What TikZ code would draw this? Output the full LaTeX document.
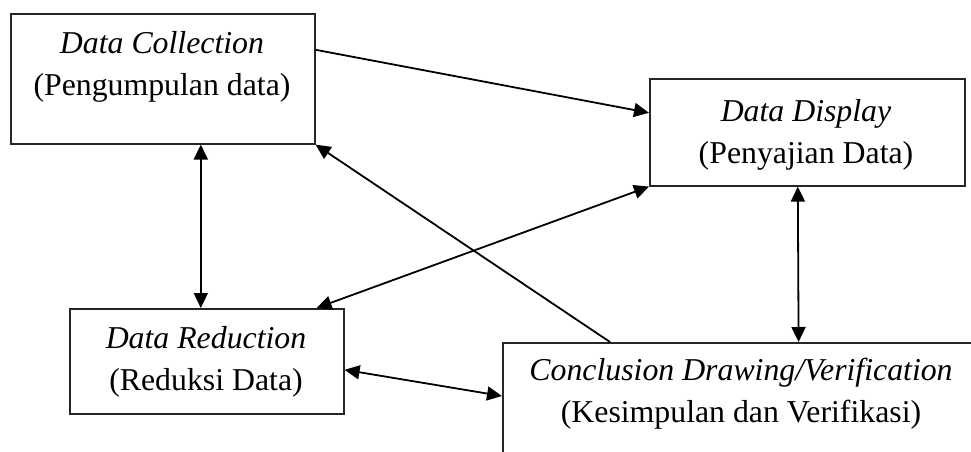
\documentclass[tikz,border=0pt]{standalone}
\usepackage{fontspec}
\setmainfont{Liberation Serif}
\usetikzlibrary{arrows.meta}
\begin{document}
\begin{tikzpicture}[x=1pt,y=-1pt,
  box/.style={draw=black!85, line width=1.6pt, rectangle, inner sep=0pt, anchor=north west},
  lbl/.style={align=center, inner sep=0pt, font=\fontsize{31.8}{42}\selectfont},
  conn/.style={line width=1.8pt, {Triangle[length=15pt,width=14pt]}-{Triangle[length=15pt,width=14pt]}},
  conn1/.style={line width=1.8pt, -{Triangle[length=15pt,width=14pt]}}]
\useasboundingbox (0,0) rectangle (971,452);
\clip (0,0) rectangle (971,452);
\fill[white] (0,0) rectangle (971,452);
% boxes
\node[box, minimum width=304pt, minimum height=130pt] (dc) at (10,13) {};
\node[box, minimum width=315pt, minimum height=107pt] (dd) at (649,78) {};
\node[box, minimum width=274pt, minimum height=105pt] (dr) at (69,308) {};
\node[box, minimum width=490pt, minimum height=130pt] (cd) at (502,342) {};
% labels
\node[lbl] (tdc) at (162,67) {\textit{Data Collection}\\(Pengumpulan data)};
\node[lbl] (tdd) at (806,135) {\textit{Data Display}\\(Penyajian Data)};
\node[lbl] (tdr) at (206,362) {\textit{Data Reduction}\\(Reduksi Data)};
\node[lbl] (tcd) at (741,394) {\textit{Conclusion Drawing/Verification}\\(Kesimpulan dan Verifikasi)};
% connectors
\draw[conn1] ([yshift=29pt]dc.east) -- ([yshift=19.5pt]dd.west);
\draw[conn1] ([xshift=108pt]cd.north west) -- (dc.south east);
\draw[conn] ([xshift=38pt]dc.south) -- ([xshift=-6pt]dr.north);
\draw[conn] ([xshift=-28pt]dr.north east) -- (dd.south west);
\draw[conn] ([yshift=-8.5pt]dr.east) -- ([yshift=-54pt]cd.north west);
\draw[conn] ([xshift=-9.5pt]dd.south) -- ([xshift=-195pt]cd.north east);
\end{tikzpicture}
\end{document}
